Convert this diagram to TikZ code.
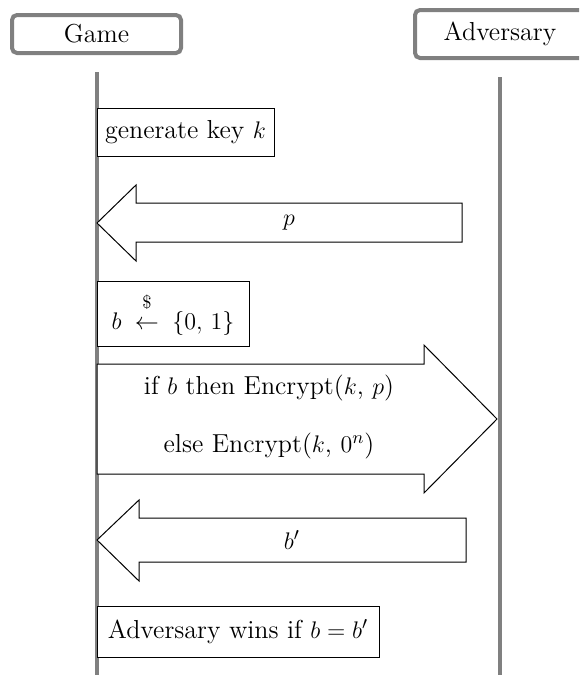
\documentclass[tikz,border=0pt]{standalone}
\usepackage{amsmath,amssymb}
\usepackage{xcolor}
\usepackage{tikz}
\usetikzlibrary{positioning,calc}

\definecolor{lifegray}{RGB}{128,128,128}
\tikzset{
    party/.style={draw=lifegray, line width=2pt, rounded corners=2.5pt, fill=white, inner sep=0pt},
    lifeline/.style={draw=lifegray, line width=2pt},
    stepbox/.style={draw=black, line width=0.5pt, fill=white, inner sep=0pt},
    msgarrow/.style={draw=black, line width=0.5pt, fill=white, line join=miter},
}

\begin{document}
\begin{tikzpicture}[x=0.5pt, y=-0.5pt, font=\fontsize{13}{15}\selectfont]
    \useasboundingbox (0,0) rectangle (579,675);
    \clip (0,0) rectangle (579,675);

    % Parties
    \node[party, minimum width=84.5pt, minimum height=19pt] (game) at (96.5,34) {Game};
    \node[party, minimum width=85pt, minimum height=24pt] (adversary) at (500,34) {Adversary};

    % Lifelines
    \coordinate (bottom) at (0,675);
    \draw[lifeline] ([yshift=-8.5pt]game.south) -- (game.south |- bottom);
    \draw[lifeline] ([yshift=-8.5pt]adversary.south) -- (adversary.south |- bottom);

    % Key generation
    \node[stepbox, minimum width=88.5pt, minimum height=24pt] (keygen) at (185.5,132) {generate key $k$};

    % Message p
    \draw[msgarrow] (97,223) -- (136,185) -- (136,203) -- (462,203) -- (462,242) -- (136,242) -- (136,261) -- cycle;
    \node (msgP) at (289,223) {$p$};

    % Challenge bit
    \node[stepbox, minimum width=76pt, minimum height=32.5pt] (sample) at (173,313.5)
        {$b \;\overset{\raisebox{3.5pt}{$\scriptstyle\$$}}{\leftarrow}\; \{0,\,1\}$};

    % Challenge ciphertext
    \draw[msgarrow] (97,364) -- (424,364) -- (424,345) -- (497,419) -- (424,493) -- (424,474) -- (97,474) -- cycle;
    \node (encIf) at (269,388) {if $b$ then Encrypt($k$, $p$)};
    \node (encElse) at (269,446) {else Encrypt($k$, $0^n$)};

    % Guess b'
    \draw[msgarrow] (97,540) -- (139,500) -- (139,518) -- (466,518) -- (466,562) -- (139,562) -- (139,581) -- cycle;
    \node (msgGuess) at (292,540) {$b'$};

    % Outcome
    \node[stepbox, minimum width=141pt, minimum height=25.5pt] (wins) at (238,631.5) {Adversary wins if $b = b'$};
\end{tikzpicture}
\end{document}
